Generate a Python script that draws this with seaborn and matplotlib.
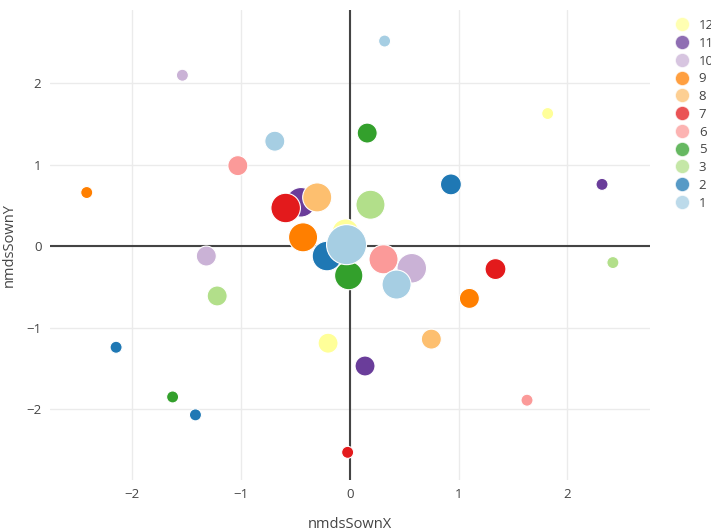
import pandas as pd
import matplotlib.pyplot as plt
import seaborn as sns
from matplotlib.lines import Line2D

# === Data ===
groups = ["12", "12", "12",
          "11", "11", "11",
          "10", "10", "10",
          "9", "9", "9",
          "8", "8",
          "7", "7", "7",
          "6", "6", "6",
          "5", "5", "5",
          "3", "3", "3",
          "2", "2", "2", "2",
          "1", "1", "1", "1"]
nmds_x = [1.82, -0.04, -0.20,
          2.32, -0.45, 0.14,
          -1.54, -1.32, 0.57,
          -2.42, -0.43, 1.10,
          -0.30, 0.75,
          -0.59, 1.34, -0.02,
          -1.03, 0.31, 1.63,
          0.16, -0.01, -1.63,
          0.19, 2.42, -1.22,
          0.93, -0.21, -2.15, -1.42,
          0.32, -0.69, -0.03, 0.43]
nmds_y = [1.63, 0.17, -1.19,
          0.76, 0.54, -1.47,
          2.10, -0.12, -0.27,
          0.66, 0.11, -0.64,
          0.60, -1.14,
          0.47, -0.28, -2.53,
          0.99, -0.16, -1.89,
          1.39, -0.36, -1.85,
          0.51, -0.20, -0.61,
          0.76, -0.12, -1.24, -2.07,
          2.52, 1.29, 0.02, -0.47]
abundance = [1, 5.0, 2.75,
             1, 6.0, 2.75,
             1, 2.75, 6.0,
             1, 5.8, 2.75,
             5.8, 2.75,
             6.0, 3.0, 1,
             2.75, 5.8, 1,
             2.75, 5.5, 1,
             5.8, 1, 2.75,
             3.0, 6.0, 1, 1,
             1, 2.75, 11, 5.8]
legend_order = ["12", "11", "10", "9", "8", "7", "6", "5", "3", "2", "1"]
group_colors = ["#ffff99", "#6a3d9a", "#cab2d6", "#ff7f00", "#fdbf6f", "#e31a1c",
                "#fb9a99", "#33a02c", "#b2df8a", "#1f78b4", "#a6cee3"]

df = pd.DataFrame({"group": groups, "nmdsSownX": nmds_x,
                   "nmdsSownY": nmds_y, "abundance": abundance})
palette = dict(zip(legend_order, group_colors))

# === Style ===
sns.set_style("white")
plt.rcParams["font.family"] = ["Open Sans", "DejaVu Sans"]

fig = plt.figure(figsize=(7.11, 5.31), dpi=100)
ax = fig.add_axes([0.070, 0.096, 0.844, 0.885])

ax.axhline(0, color="#444444", lw=1.5, zorder=1)
ax.axvline(0, color="#444444", lw=1.5, zorder=1)

sns.scatterplot(data=df, x="nmdsSownX", y="nmdsSownY", hue="group",
                hue_order=legend_order, palette=palette,
                size="abundance", sizes=(75, 830), size_norm=(1, 11),
                edgecolor="white", linewidth=0.8, alpha=1.0,
                legend=False, ax=ax, zorder=3)

ax.set_xlim(-2.76, 2.76)
ax.set_ylim(-2.87, 2.90)
ax.set_xticks([-2, -1, 0, 1, 2])
ax.set_yticks([-2, -1, 0, 1, 2])
ax.grid(True, color="#ebebeb", lw=1.0, zorder=0)
ax.set_axisbelow(True)
for s in ax.spines.values():
    s.set_visible(False)
ax.tick_params(length=0, labelsize=9.5, labelcolor="#444444", pad=6)
ax.set_xlabel("nmdsSownX", fontsize=10.5, color="#444444", labelpad=11)
ax.set_ylabel("nmdsSownY", fontsize=10.5, color="#444444", labelpad=7)

# === Legend (outside right, clipped by figure edge like the original) ===
handles = [Line2D([0], [0], marker="o", linestyle="", markersize=10.5,
                  markerfacecolor=c, markeredgecolor="white", alpha=0.75)
           for c in group_colors]
fig.legend(handles, legend_order, loc="upper left", bbox_to_anchor=(0.942, 0.974),
           frameon=False, fontsize=9.5, labelspacing=0.36, handletextpad=0.8,
           handlelength=1.0, borderaxespad=0, labelcolor="#444444")

fig.savefig("out.png", dpi=100)
